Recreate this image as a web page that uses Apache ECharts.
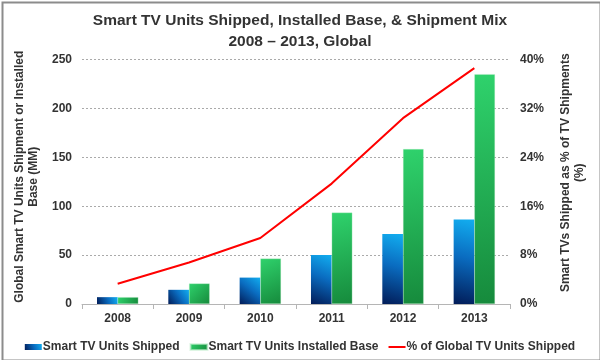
<!DOCTYPE html>
<html>
<head>
<meta charset="utf-8">
<script src="https://cdn.jsdelivr.net/npm/echarts@6/dist/echarts.min.js"></script>
<style>
html,body{margin:0;padding:0;background:#fff;}
#chart{width:600px;height:360px;}
</style>
</head>
<body>
<div id="chart"></div>
<script>
var categories = ['2008', '2009', '2010', '2011', '2012', '2013'];
var unitsShipped = [7, 14.5, 27, 50, 71.5, 86.5];
var installedBase = [7, 21, 46.5, 93.5, 158.5, 235];
var pctShipped = [3.3, 6.8, 10.8, 19.7, 30.4, 38.6];
var leftTicks = [0, 50, 100, 150, 200, 250];
var rightTicks = [0, 8, 16, 24, 32, 40];

var FONT = '"Liberation Sans", Arial, sans-serif';
var chart = echarts.init(document.getElementById('chart'));

var blueGrad = new echarts.graphic.LinearGradient(0, 1, 1, 0, [
  {offset: 0, color: '#021c58'},
  {offset: 0.55, color: '#0a6cc0'},
  {offset: 1, color: '#12aef0'}
]);
var greenGrad = new echarts.graphic.LinearGradient(0, 0, 1, 1, [
  {offset: 0, color: '#2fd26c'},
  {offset: 1, color: '#168a3c'}
]);

chart.setOption({
  animation: false,
  textStyle: {fontFamily: FONT},
  graphic: [{
    type: 'rect', left: 0, top: 0, silent: true,
    shape: {x: 1, y: 1, width: 598, height: 358},
    style: {fill: 'none', stroke: '#8c8c8c', lineWidth: 2}
  }],
  title: {
    text: 'Smart TV Units Shipped, Installed Base, & Shipment Mix\n2008 \u2013 2013, Global',
    left: 'center', top: 5,
    textStyle: {fontFamily: FONT, fontSize: 15.5, fontWeight: 'bold', color: '#333', lineHeight: 21, align: 'center'}
  },
  legend: {
    top: 336, left: 'center',
    itemWidth: 17, itemHeight: 6, itemGap: 10,
    textStyle: {fontFamily: FONT, fontSize: 12, fontWeight: 'bold', color: '#333', padding: [0, 0, 0, -4]},
    data: [
      {name: 'Smart TV Units Shipped', icon: 'rect'},
      {name: 'Smart TV Units Installed Base', icon: 'rect'},
      {name: '% of Global TV Units Shipped', icon: 'path://M0,0H17V2H0Z', itemStyle: {color: '#ff0000'}}
    ]
  },
  grid: {left: 82, right: 90, top: 59.5, bottom: 56, containLabel: false},
  xAxis: {
    type: 'category', data: categories,
    axisLine: {lineStyle: {color: '#b5b5b5', width: 1}},
    axisTick: {show: true, length: 5, lineStyle: {color: '#b5b5b5'}},
    axisLabel: {fontFamily: FONT, fontSize: 12, fontWeight: 'bold', color: '#333', margin: 9}
  },
  yAxis: [{
    type: 'value', min: leftTicks[0], max: leftTicks[leftTicks.length - 1], interval: 50,
    name: 'Global Smart TV Units Shipment or Installed\nBase (MM)',
    nameLocation: 'middle', nameRotate: 90, nameGap: 40,
    nameTextStyle: {fontFamily: FONT, fontSize: 12, fontWeight: 'bold', color: '#333', lineHeight: 14, padding: [0, 0, 0, 10]},
    axisLine: {show: false}, axisTick: {show: false},
    axisLabel: {fontFamily: FONT, fontSize: 12, fontWeight: 'bold', color: '#333', margin: 10},
    splitLine: {lineStyle: {color: '#aaaaaa', type: [2, 2], width: 1}}
  }, {
    type: 'value', min: rightTicks[0], max: rightTicks[rightTicks.length - 1], interval: 8,
    name: 'Smart TVs Shipped as % of TV Shipments\n(%)',
    nameLocation: 'middle', nameRotate: 90, nameGap: 49,
    nameTextStyle: {fontFamily: FONT, fontSize: 12, fontWeight: 'bold', color: '#333', lineHeight: 14, padding: [0, 0, 0, 18]},
    axisLine: {show: false}, axisTick: {show: false},
    axisLabel: {fontFamily: FONT, fontSize: 12, fontWeight: 'bold', color: '#333', margin: 10, formatter: '{value}%'},
    splitLine: {show: false}
  }],
  series: [{
    name: 'Smart TV Units Shipped', type: 'bar', data: unitsShipped,
    barGap: '0%', barCategoryGap: '42%',
    itemStyle: {color: blueGrad}
  }, {
    name: 'Smart TV Units Installed Base', type: 'bar', data: installedBase,
    barGap: '0%', barCategoryGap: '42%',
    itemStyle: {color: greenGrad, borderColor: 'rgba(200,240,210,0.6)', borderWidth: 0.5}
  }, {
    name: '% of Global TV Units Shipped', type: 'line', yAxisIndex: 1, data: pctShipped,
    symbol: 'none', smooth: false,
    lineStyle: {color: '#ff0000', width: 2},
    itemStyle: {color: '#ff0000'}
  }]
});
</script>
</body>
</html>
